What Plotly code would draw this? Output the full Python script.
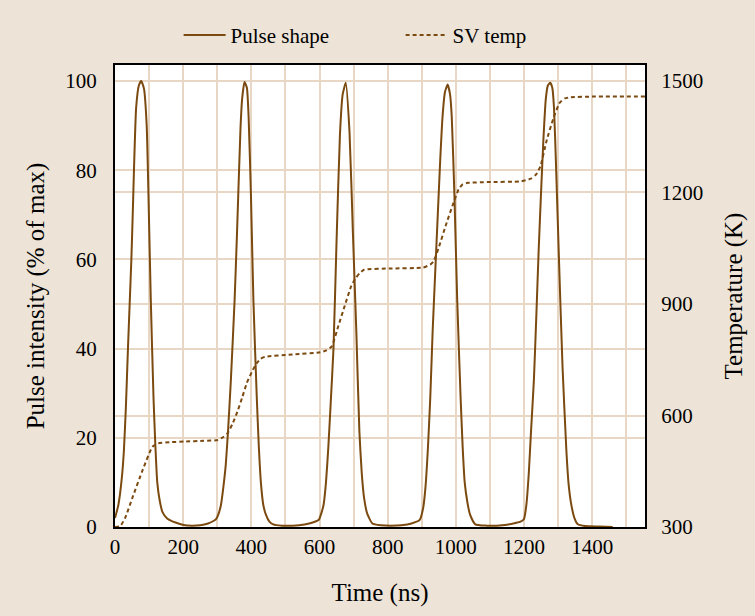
import plotly.graph_objects as go

# ---- data ----
pulse_time = [0, 10, 20, 26, 32, 38, 43, 48, 52, 56, 62, 70, 77, 85, 93, 98, 105, 113, 118, 124,
              131, 139, 153, 170, 186, 205, 225, 250, 273, 290, 297, 304, 311, 318, 325, 332, 340,
              351, 358, 368, 373, 380,
              387, 392, 399, 406, 416, 422, 428, 435, 443, 453, 464, 490, 520, 540, 570, 590, 598,
              605, 612, 619, 626, 633, 641, 650, 660, 668, 677,
              688, 698, 708, 717, 724, 731, 740, 755, 780, 810, 840, 870, 894, 904, 911, 918, 925,
              932, 940, 947, 954, 961, 968, 976,
              983, 988, 996, 1004, 1014, 1020, 1026, 1034, 1042, 1057, 1090, 1120, 1150, 1175, 1190,
              1200, 1207, 1214, 1221, 1229, 1236, 1243, 1250, 1257, 1264, 1270, 1277,
              1283, 1288, 1294, 1303, 1313, 1324, 1331, 1339, 1348, 1358, 1380, 1420, 1460]
pulse_value = [2.0, 5, 11, 17, 27, 40, 50, 60, 70, 81, 94, 99, 100, 98.3, 90, 75, 51, 29, 19, 10,
               6, 3.4, 1.9, 1.2, 0.8, 0.4, 0.3, 0.4, 0.8, 1.4, 1.8, 3, 5, 9, 14, 22, 33,
               51, 66, 89, 96, 99.8,
               98.5, 92, 74, 51, 29, 18, 10, 5, 2.7, 1.2, 0.6, 0.3, 0.3, 0.4, 0.8, 1.3, 1.6,
               3, 5, 10, 18, 28, 40, 64, 88, 97, 99.6,
               88.6, 66, 44, 21.4, 12, 6.4, 3, 0.8, 0.4, 0.3, 0.4, 0.8, 1.6, 4.2, 9, 17.6, 29,
               44, 58, 70, 82, 92, 97.5, 99.2,
               97, 92, 74, 51, 29, 18, 10, 5.5, 2.7, 0.6, 0.3, 0.3, 0.5, 0.9, 1.2,
               1.8, 5, 12, 22, 33, 47, 62, 75, 87, 96, 99, 99.6,
               98.5, 94, 81, 59, 36, 17.6, 9.5, 4.9, 2, 0.6, 0.2, 0.1, 0]

temp_time = [0, 15, 30, 52, 81, 110, 127, 160, 205, 260, 301, 318, 330, 345, 359, 373, 387, 402,
             416, 428, 440, 521, 602, 620, 636, 655, 674, 693, 705, 717, 731, 808, 904, 925, 935,
             951, 970, 990, 1008, 1020, 1035, 1095, 1190, 1220, 1235, 1248, 1267, 1286, 1305,
             1320, 1334, 1400, 1555]
temp_value = [300, 302, 325, 381, 453, 516, 525, 528, 530, 532, 534, 542, 552, 578, 610, 648, 688,
              718, 741, 753, 758, 764, 770, 775, 786, 840, 895, 948, 968, 982, 992, 995.5, 998,
              1006, 1015, 1055, 1110, 1164, 1208, 1222, 1226, 1228, 1230, 1237, 1248, 1270, 1342,
              1399, 1442, 1453, 1456, 1458, 1458]

x_ticks = [0, 200, 400, 600, 800, 1000, 1200, 1400]
y_ticks = [0, 20, 40, 60, 80, 100]
y2_ticks = [300, 600, 900, 1200, 1500]

BROWN = "#7B4A10"
BG = "#EDE4D7"
GRID = "#E7D7C4"
FONT = "Liberation Serif"

fig = go.Figure()
fig.add_trace(go.Scatter(x=pulse_time, y=pulse_value, name="Pulse shape", mode="lines",
                         line=dict(color=BROWN, width=2, shape="spline", smoothing=0.5)))
fig.add_trace(go.Scatter(x=temp_time, y=temp_value, name="SV temp", mode="lines", yaxis="y2",
                         line=dict(color=BROWN, width=2, dash="4px,3px", shape="spline", smoothing=0.5)))

fig.update_layout(
    width=755, height=616,
    margin=dict(l=115, r=98, t=65, b=89),
    paper_bgcolor=BG, plot_bgcolor="white",
    font=dict(family=FONT, size=21, color="black"),
    showlegend=True,
    legend=dict(orientation="h", x=0.12, xanchor="left", y=1.02, yanchor="bottom",
                bgcolor="rgba(0,0,0,0)", font=dict(size=21), itemwidth=42,
                entrywidth=165, entrywidthmode="pixels"),
    xaxis=dict(range=[0, 1555], tickvals=x_ticks, showgrid=True, gridcolor=GRID, gridwidth=1.5,
               minor=dict(dtick=100, tick0=0, showgrid=True, gridcolor=GRID, gridwidth=1.5),
               showline=True, linecolor="black", linewidth=2, mirror=True, ticks="",
               zeroline=False, title=dict(text="Time (ns)", standoff=25)),
    yaxis=dict(range=[0, 103.6], tickvals=y_ticks, showgrid=True, gridcolor=GRID, gridwidth=1.5,
               showline=True, linecolor="black", linewidth=2, mirror=True, ticks="",
               zeroline=False, ticklabelstandoff=12,
               title=dict(text="Pulse intensity (% of max)", standoff=14)),
    yaxis2=dict(range=[300, 1543], tickvals=y2_ticks, overlaying="y", side="right",
                showgrid=True, gridcolor=GRID, gridwidth=1.5, showline=True, linecolor="black",
                linewidth=2, ticks="", zeroline=False, ticklabelstandoff=10,
                title=dict(text="Temperature (K)", standoff=22)),
)

fig.write_html("out.html")
